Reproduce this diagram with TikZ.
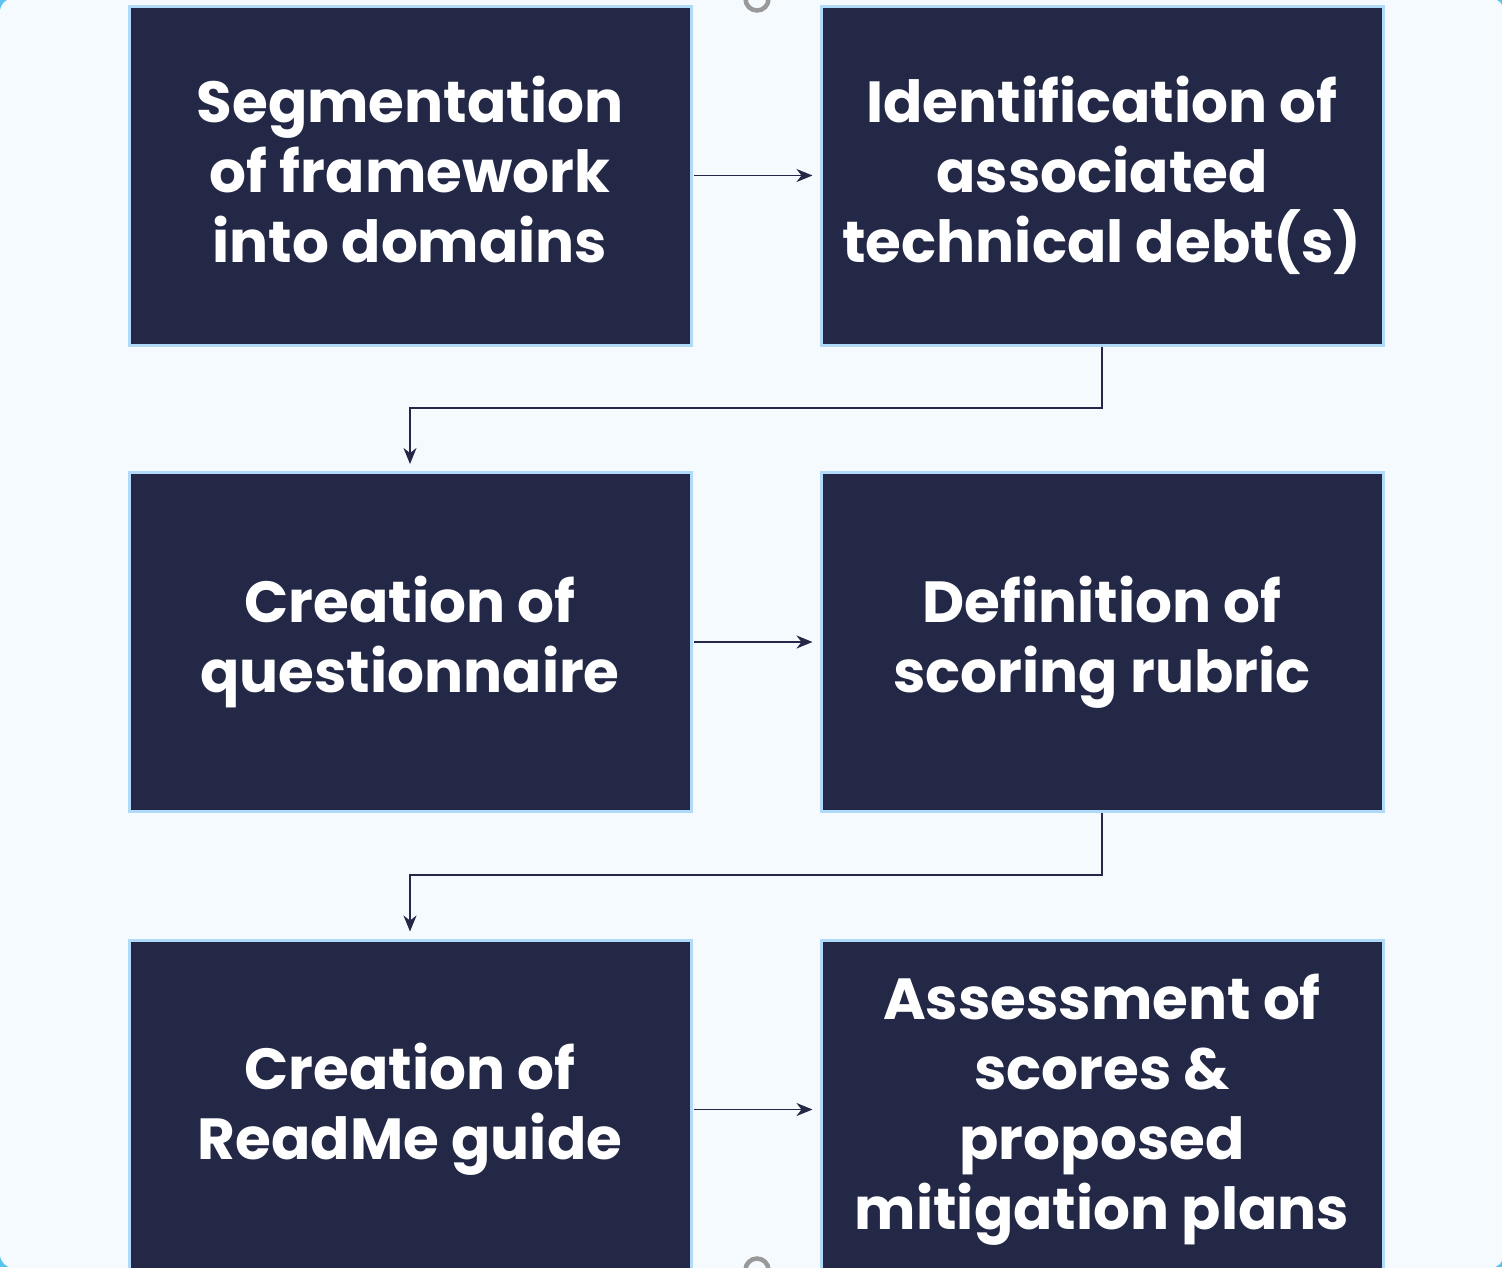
\documentclass[tikz,border=0pt]{standalone}
\usepackage{fontspec}
\setmainfont{Poppins}
\usetikzlibrary{arrows.meta}
\definecolor{navy}{HTML}{232846}
\definecolor{edge}{HTML}{B0DAF7}
\definecolor{bg}{HTML}{F5FAFF}
\definecolor{corner}{HTML}{5BC3F0}
\definecolor{ring}{HTML}{999999}
\tikzset{
  stepbox/.style={draw=edge, line width=3pt, fill=navy, text=white,
    minimum width=562pt, minimum height=339pt, inner sep=0pt,
    align=center, font=\fontsize{58}{70}\selectfont\bfseries},
  link/.style={draw=navy, line width=1.8pt, -{Stealth[length=16pt,width=13pt,inset=5pt]}},
}
\begin{document}
\begin{tikzpicture}[x=1pt,y=-1pt]
\useasboundingbox (0,0) rectangle (1502,1267);
\clip (0,0) rectangle (1502,1267);
\fill[corner] (0,0) rectangle (1502,1267);
\fill[bg, rounded corners=14pt] (0,-2) rectangle (1504,1268);
\draw[ring, line width=4.5pt] (757,-1) circle (11.5pt);
\draw[ring, line width=4.5pt] (757,1270) circle (11.5pt);
\node[stepbox] (a) at (410,175.5) {Segmentation\\of framework\\into domains\vphantom{()}};
\node[stepbox] (b) at (1102,175.5) {Identification of\\associated\\technical debt(s)};
\node[stepbox] (c) at (410,642) {Creation of\\questionnaire};
\node[stepbox] (d) at (1102,642) {Definition of\\scoring rubric};
\node[stepbox] (e) at (410,1109.5) {Creation of\\ReadMe guide};
\node[stepbox] (f) at (1102,1109.5) {Assessment of\\scores \&\\proposed\\mitigation plans};
\draw[link] (a.east) ++(1.5,0) -- ([xshift=-7pt]b.west);
\draw[link] (c.east) ++(1.5,0) -- ([xshift=-7pt]d.west);
\draw[link] (e.east) ++(1.5,0) -- ([xshift=-7pt]f.west);
\draw[link] (b.south) |- (410,408) -- ([yshift=7pt]c.north);
\draw[link] (d.south) |- (410,875) -- ([yshift=7pt]e.north);
\end{tikzpicture}
\end{document}
